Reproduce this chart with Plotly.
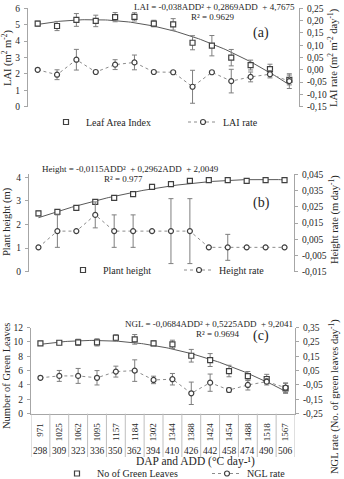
import numpy as np
import plotly.graph_objects as go

W, H = 344, 479
FONT = "Liberation Serif, Times New Roman, serif"
TXT = "#262626"
AX = "#a6a6a6"
MK = "#404040"
ERR = "#7f7f7f"
RATE_LINE = "#8c8c8c"
TREND = "#595959"

# ---------------- data ----------------
cats = list(range(1, 15))
add_labels = ["971", "1025", "1062", "1095", "1157", "1184", "1302", "1344",
              "1388", "1424", "1454", "1488", "1518", "1567"]
dap_labels = ["298", "309", "323", "336", "350", "362", "394", "410",
              "426", "442", "458", "474", "490", "506"]

lai = [5.07, 4.92, 5.29, 5.23, 5.46, 5.48, 5.07, 5.02, 3.90, 3.72, 2.99, 2.54, 2.29, 1.63]
lai_err = [0.15, 0.28, 0.39, 0.35, 0.28, 0.25, 0.20, 0.35, 0.43, 0.62, 0.50, 0.30, 0.30, 0.30]
lai_rate = [0.0, -0.02, 0.041, -0.009, 0.021, 0.03, -0.009, -0.01, -0.069, -0.01,
            -0.046, -0.029, -0.018, -0.046]
lai_rate_err = [0.0, 0.02, 0.042, 0.0, 0.02, 0.03, 0.0, 0.0, 0.067, 0.0,
                0.048, 0.02, 0.015, 0.03]
lai_fit = [-0.038, 0.2869, 4.7675]

height = [2.47, 2.54, 2.71, 2.96, 3.13, 3.29, 3.60, 3.71, 3.85, 3.88, 3.88, 3.85, 3.88, 3.88]
height_err = [0.10, 0.08, 0.07, 0.10, 0.10, 0.08, 0.10, 0.10, 0.06, 0.05, 0.06, 0.06, 0.05, 0.05]
height_rate = [0.0, 0.01, 0.01, 0.02, 0.01, 0.01, 0.01, 0.01, 0.01, 0.0, 0.0, 0.0, 0.0, 0.0]
height_rate_err = [0.0, 0.01, 0.0, 0.008, 0.01, 0.01, 0.0, 0.02, 0.02, 0.0, 0.008, 0.0, 0.0, 0.0]
height_fit = [-0.0115, 0.2962, 2.0049]

ngl = [9.79, 9.88, 9.93, 9.93, 10.57, 10.35, 9.79, 9.65, 8.07, 7.47, 5.94, 5.24, 4.83, 3.53]
ngl_err = [0.28, 0.28, 0.44, 0.50, 0.44, 0.67, 0.35, 0.58, 0.88, 0.90, 0.80, 0.63, 0.65, 0.70]
ngl_rate = [0.0, 0.013, 0.013, 0.0, 0.043, 0.05, -0.015, -0.01, -0.108, -0.034,
            -0.085, -0.05, -0.027, -0.069]
ngl_rate_err = [0.01, 0.038, 0.052, 0.05, 0.038, 0.075, 0.026, 0.04, 0.078, 0.06,
                0.015, 0.035, 0.023, 0.033]
ngl_fit = [-0.0684, 0.5225, 9.2041]

lai_ticks = [0, 1, 2, 3, 4, 5, 6]
lai_rate_ticks = [-0.15, -0.10, -0.05, 0.0, 0.05, 0.10, 0.15, 0.20, 0.25]
height_ticks = [0, 1, 2, 3, 4]
height_rate_ticks = [-0.015, -0.005, 0.005, 0.015, 0.025, 0.035, 0.045]
ngl_ticks = [0, 2, 4, 6, 8, 10, 12]
ngl_rate_ticks = [-0.25, -0.15, -0.05, 0.05, 0.15, 0.25, 0.35]


def comma(vals, nd):
    return [f"{v:.{nd}f}".replace(".", ",") for v in vals]


def px(xp):
    return xp / W


def py(yp):
    return 1 - yp / H


fig = go.Figure()


def add_panel(xa, ya_l, ya_r, vals, errs, rates, rerrs, fit, name, rname, lg1, lg2):
    xs = np.linspace(cats[0], cats[-1], 120)
    fig.add_trace(go.Scatter(x=xs, y=np.polyval(fit, xs), mode="lines",
                             line=dict(color=TREND, width=1), showlegend=False,
                             xaxis=xa, yaxis=ya_l, hoverinfo="skip"))
    fig.add_trace(go.Scatter(x=cats, y=rates, mode="lines+markers", name=rname,
                             line=dict(color=RATE_LINE, width=1, dash="dot"),
                             marker=dict(symbol="circle", size=5, color="white",
                                         line=dict(color=MK, width=1.2)),
                             error_y=dict(type="data", array=rerrs, color=ERR,
                                          thickness=1, width=2.5),
                             xaxis=xa, yaxis=ya_r, legend=lg2))
    fig.add_trace(go.Scatter(x=cats, y=vals, mode="markers", name=name,
                             marker=dict(symbol="square", size=5, color="white",
                                         line=dict(color=MK, width=1.2)),
                             error_y=dict(type="data", array=errs, color=ERR,
                                          thickness=1, width=2.5),
                             xaxis=xa, yaxis=ya_l, legend=lg1))


add_panel("x", "y", "y2", lai, lai_err, lai_rate, lai_rate_err, lai_fit,
          "Leaf Area Index", "LAI rate", "legend", "legend2")
add_panel("x2", "y3", "y4", height, height_err, height_rate, height_rate_err, height_fit,
          "Plant height", "Height rate", "legend3", "legend4")
add_panel("x3", "y5", "y6", ngl, ngl_err, ngl_rate, ngl_rate_err, ngl_fit,
          "No of Green Leaves", "NGL rate", "legend5", "legend6")

tickfont = dict(family=FONT, size=9.5, color=TXT)


def yax(dom, rng, tv, tt, side, overlay, anchor):
    d = dict(domain=dom, range=rng, tickvals=tv, ticktext=tt, side=side, anchor=anchor,
             showline=True, linecolor=AX, linewidth=1, ticks="outside", ticklen=3,
             tickcolor=AX, tickfont=tickfont, showgrid=False, zeroline=False, ticklabelstandoff=2)
    if overlay:
        d["overlaying"] = overlay
    return d


def xax(dom, anchor, line):
    return dict(domain=dom, range=[0.5, 14.5], anchor=anchor, showline=line, linecolor=AX,
                showticklabels=False, ticks="", showgrid=False, zeroline=False,
                tickvals=cats)


dom_a = [py(106.7), py(8.3)]
dom_b = [py(271.7), py(174.3)]
dom_c = [py(413.7), py(327.5)]

xaxis3 = xax([px(31), px(295)], "y5", True)
xaxis3.update(showticklabels=True, ticktext=add_labels, tickangle=-90,
              ticklabelstandoff=5, tickfont=dict(family=FONT, size=9, color=TXT))

layout = dict(
    width=W, height=H, margin=dict(l=0, r=0, t=0, b=0, autoexpand=False),
    paper_bgcolor="white", plot_bgcolor="white",
    font=dict(family=FONT, color=TXT),
    xaxis=xax([px(28), px(299)], "y", False),
    xaxis2=xax([px(29), px(294)], "y3", False),
    xaxis3=xaxis3,
    yaxis=yax(dom_a, [0, 6], lai_ticks, [str(v) for v in lai_ticks], "left", None, "x"),
    yaxis2=yax(dom_a, [-0.15, 0.25], lai_rate_ticks, comma(lai_rate_ticks, 2), "right", "y", "x"),
    yaxis3=yax(dom_b, [0, 4.13], height_ticks, [str(v) for v in height_ticks], "left", None, "x2"),
    yaxis4=yax(dom_b, [-0.015, 0.045], height_rate_ticks, comma(height_rate_ticks, 3), "right", "y3", "x2"),
    yaxis5=yax(dom_c, [0, 12], ngl_ticks, [str(v) for v in ngl_ticks], "left", None, "x3"),
    yaxis6=yax(dom_c, [-0.25, 0.35], ngl_rate_ticks, comma(ngl_rate_ticks, 2), "right", "y5", "x3"),
)


def leg(sym_x, y):
    return dict(x=px(sym_x - 20), y=py(y), xanchor="left", yanchor="middle",
                orientation="h", bgcolor="rgba(0,0,0,0)", borderwidth=0,
                font=dict(family=FONT, size=10, color=TXT), itemwidth=30)


layout["legend"] = leg(66, 122)
layout["legend2"] = leg(203, 122)
layout["legend3"] = leg(83, 270)
layout["legend4"] = leg(199, 270)
layout["legend5"] = leg(77, 473.5)
layout["legend6"] = leg(227, 473.5)

ann = []


def A(text, x, y, size, xanchor="center", angle=0):
    ann.append(dict(text=text, x=px(x), y=py(y), xref="paper", yref="paper",
                    xanchor=xanchor, yanchor="middle", showarrow=False, textangle=angle,
                    font=dict(family=FONT, size=size, color=TXT)))


# equations, R², panel labels
A("LAI = -0,038ADD² + 0,2869ADD  + 4,7675", 297, 7, 9, "right")
A("R² = 0.9629", 213, 17, 9)
A("(a)", 261, 33, 14)
A("Height = -0,0115ADD²  + 0,2962ADD  + 2,0049", 40, 169, 9, "left")
A("R² = 0.977", 123, 178.5, 9)
A("(b)", 261, 203, 14)
A("NGL = -0,0684ADD² + 0,5225ADD  + 9,2041", 209, 324, 9)
A("R² = 0.9694", 218, 333.5, 9)
A("(c)", 261, 336, 14)

# axis titles
A("LAI (m<sup>2</sup> m<sup>-2</sup>)", 7, 58, 10.5, angle=-90)
A("LAI rate (m<sup>2</sup> m<sup>-2</sup> day<sup>-1</sup>)", 333, 58, 10.5, angle=-90)
A("Plant height (m)", 7, 222, 10.5, angle=-90)
A("Height rate (m day<sup>-1</sup>)", 334, 220, 10.5, angle=-90)
A("Number of Green Leaves", 6, 376, 10.5, angle=-90)
A("NGL rate (No. of green leaves day<sup>-1</sup>)", 334, 397, 10.5, angle=-90)
A("DAP and ADD (°C day-¹)", 195, 461.5, 11.5)

# DAP row of the category table under panel (c)
for c, d_lbl in zip(cats, dap_labels):
    ann.append(dict(text=d_lbl, x=c, y=py(451), xref="x3", yref="paper",
                    xanchor="center", yanchor="middle", showarrow=False,
                    font=dict(family=FONT, size=9.5, color=TXT)))

shapes = []
for c in cats + [cats[0] - 1]:
    shapes.append(dict(type="line", xref="x3", yref="paper", x0=c + 0.5, x1=c + 0.5,
                       y0=py(413.7), y1=py(457), line=dict(color="#bfbfbf", width=1)))

layout["annotations"] = ann
layout["shapes"] = shapes
fig.update_layout(**layout)
fig.write_html("out.html")
